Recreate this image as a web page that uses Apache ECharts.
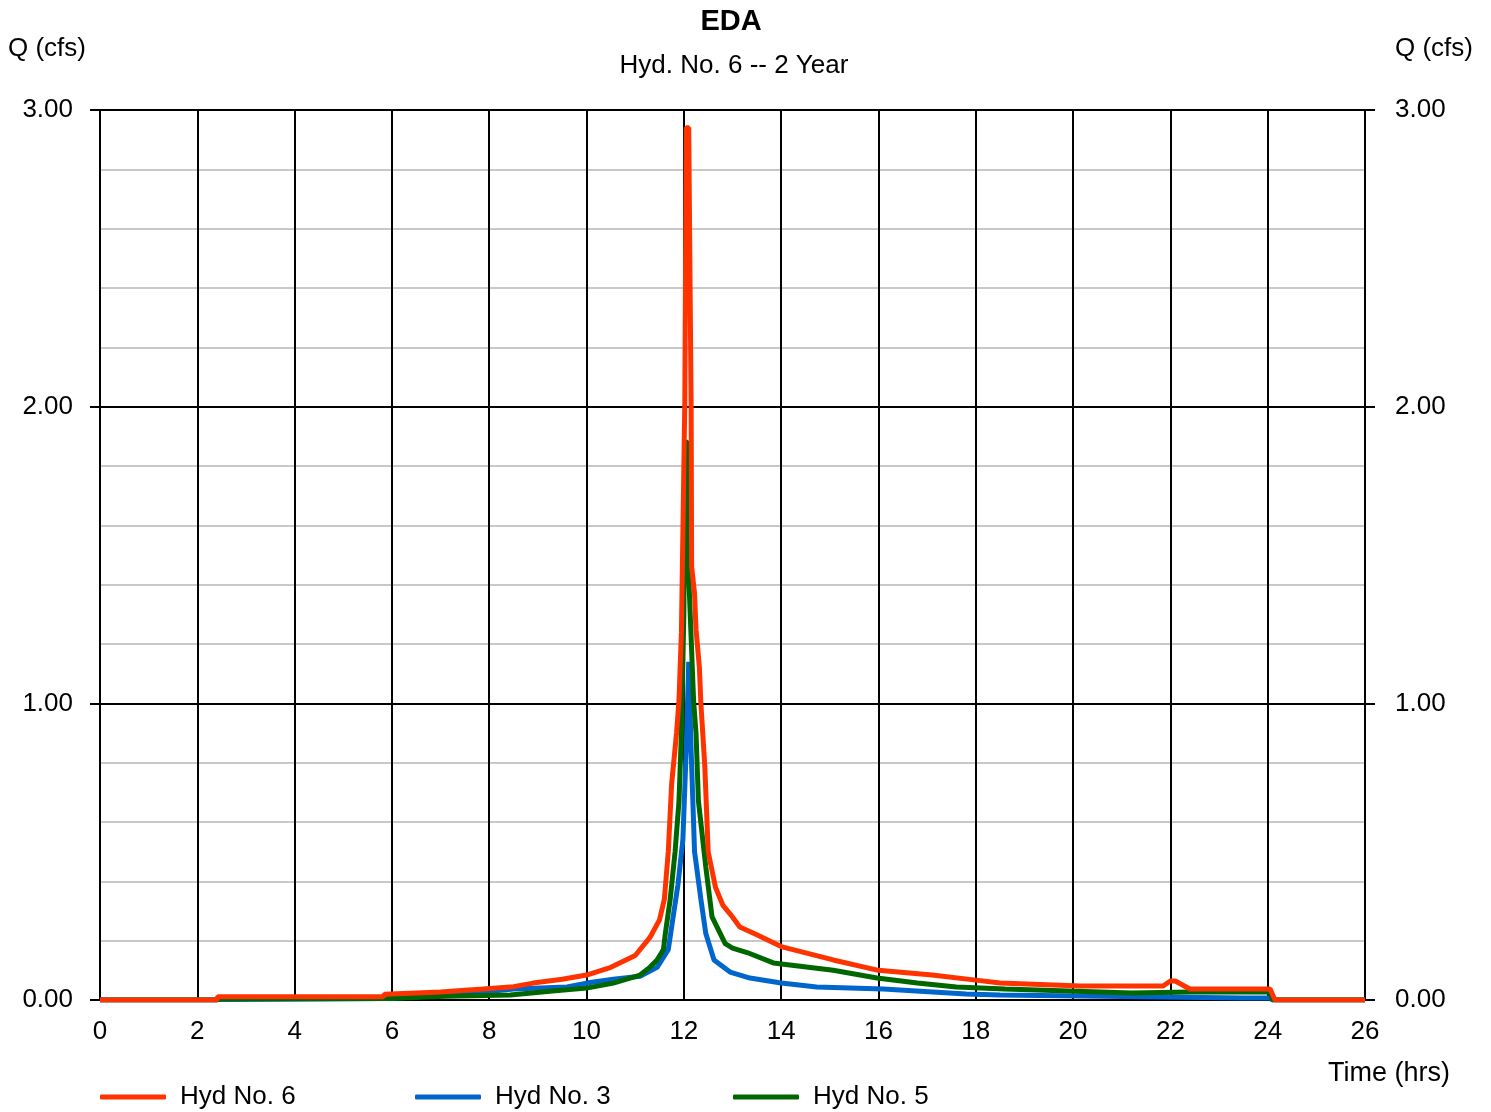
<!DOCTYPE html>
<html>
<head>
<meta charset="utf-8">
<title>EDA</title>
<script src="https://cdn.jsdelivr.net/npm/echarts@6/dist/echarts.min.js"></script>
<style>
  html, body { margin: 0; padding: 0; background: #fff; }
  #main { width: 1491px; height: 1112px; }
</style>
</head>
<body>
<div id="main"></div>
<script>
// Hyd No. 6 (combined) - time (hrs) / flow (cfs)
var redT = [0, 2.4, 2.42, 5.82, 5.85, 7.0, 7.87, 8.5, 8.9, 9.5, 10.0, 10.5, 11.0, 11.3, 11.5, 11.6, 11.68, 11.75, 11.85, 11.9,
            11.95, 12.02, 12.05, 12.1, 12.15, 12.16, 12.22, 12.25, 12.32, 12.35, 12.43, 12.5, 12.65, 12.8, 13.0, 13.15, 13.5, 14.0,
            15.07, 16.0, 17.1, 18.0, 18.5, 20.15, 21.85, 22.0, 22.1, 22.4, 24.05, 24.15, 26];
var redQ = [0, 0, 0.011, 0.011, 0.019, 0.027, 0.037, 0.045, 0.057, 0.07, 0.084, 0.11, 0.15, 0.21, 0.27, 0.34, 0.5, 0.73, 0.9, 1.01,
            1.24, 2.02, 2.94, 2.94, 2.0, 1.46, 1.37, 1.25, 1.12, 1.0, 0.79, 0.5, 0.38, 0.32, 0.28, 0.246, 0.22, 0.18,
            0.135, 0.1, 0.084, 0.067, 0.057, 0.047, 0.047, 0.064, 0.064, 0.037, 0.037, 0, 0];

// Hyd No. 3
var blueT = [0, 2.4, 2.45, 5.9, 7.0, 7.87, 8.5, 9.6, 10.0, 10.55, 11.1, 11.45, 11.68, 11.78, 11.88, 11.98, 12.05, 12.1, 12.15, 12.22,
             12.35, 12.45, 12.62, 12.95, 13.36, 14.0, 14.73, 16.1, 17.8, 18.5, 23.5, 24.05, 24.1, 26];
var blueQ = [0, 0, 0.002, 0.005, 0.015, 0.027, 0.037, 0.044, 0.057, 0.07, 0.08, 0.11, 0.17, 0.28, 0.39, 0.54, 0.85, 1.14, 0.84, 0.5,
             0.34, 0.225, 0.135, 0.094, 0.074, 0.057, 0.044, 0.037, 0.02, 0.017, 0.007, 0.007, 0, 0];

// Hyd No. 5
var greenT = [0, 2.4, 2.45, 5.9, 7.1, 8.43, 9.3, 10.0, 10.55, 11.1, 11.3, 11.45, 11.58, 11.62, 11.72, 11.82, 11.9, 11.95, 12.0, 12.02,
              12.08, 12.1, 12.2, 12.25, 12.3, 12.45, 12.58, 12.85, 13.0, 13.3, 13.84, 15.07, 15.97, 16.8, 17.6, 18.6, 21.2, 22.4,
              24.05, 24.1, 26];
var greenQ = [0, 0, 0.003, 0.005, 0.013, 0.017, 0.03, 0.04, 0.057, 0.084, 0.11, 0.135, 0.17, 0.225, 0.34, 0.5, 0.67, 0.9, 1.3, 1.88,
              1.88, 1.43, 1.01, 0.9, 0.67, 0.45, 0.28, 0.19, 0.175, 0.16, 0.125, 0.1, 0.074, 0.057, 0.044, 0.037, 0.024, 0.027,
              0.027, 0, 0];

var seriesNames = ['Hyd No. 6', 'Hyd No. 3', 'Hyd No. 5'];
var seriesColors = ['#ff3300', '#0066cc', '#006600'];

var FONT = '"Liberation Sans", Arial, sans-serif';

function pairs(t, q) {
    var res = [];
    for (var i = 0; i < t.length; i++) {
        res.push([t[i], q[i]]);
    }
    return res;
}

var myChart = echarts.init(document.getElementById('main'));

var yAxisBase = {
    type: 'value',
    min: 0,
    max: 3,
    interval: 1,
    axisLine: { show: true, lineStyle: { color: '#000', width: 2 } },
    axisTick: { show: true, inside: false, length: 10, lineStyle: { color: '#000', width: 2 } },
    axisLabel: {
        color: '#000',
        fontSize: 26,
        fontFamily: FONT,
        formatter: function (v) { return v.toFixed(2); }
    }
};

var option = {
    animation: false,
    backgroundColor: '#fff',
    grid: { left: 100, right: 126, top: 110, bottom: 112, containLabel: false },
    graphic: [
        { type: 'text', x: 731, y: 22, style: { text: 'EDA', font: 'bold 29px ' + FONT, fill: '#000', align: 'center', verticalAlign: 'middle' } },
        { type: 'text', x: 734, y: 66, style: { text: 'Hyd. No. 6 -- 2 Year', font: '26px ' + FONT, fill: '#000', align: 'center', verticalAlign: 'middle' } },
        { type: 'text', x: 47, y: 49, style: { text: 'Q (cfs)', font: '26px ' + FONT, fill: '#000', align: 'center', verticalAlign: 'middle' } },
        { type: 'text', x: 1434, y: 49, style: { text: 'Q (cfs)', font: '26px ' + FONT, fill: '#000', align: 'center', verticalAlign: 'middle' } },
        { type: 'text', x: 1389, y: 1074, style: { text: 'Time (hrs)', font: '27px ' + FONT, fill: '#000', align: 'center', verticalAlign: 'middle' } }
    ],
    legend: seriesNames.map(function (name, i) {
        return {
            data: [name],
            left: [100, 415, 733][i],
            top: 1084,
            padding: 0,
            icon: 'roundRect',
            itemWidth: 66,
            itemHeight: 5,
            selectedMode: false,
            textStyle: { color: '#000', fontSize: 26, fontFamily: FONT, padding: [0, 0, 0, 9], lineHeight: 26 }
        };
    }),
    xAxis: {
        type: 'value',
        min: 0,
        max: 26,
        interval: 2,
        axisLine: { show: true, onZero: false, lineStyle: { color: '#000', width: 2 } },
        axisTick: { show: false },
        axisLabel: { color: '#000', fontSize: 26, fontFamily: FONT, margin: 19 },
        splitLine: { show: true, lineStyle: { color: '#000', width: 2 } }
    },
    yAxis: [
        echarts.util.merge({
            position: 'left',
            axisLabel: { margin: 27 },
            splitLine: { show: true, lineStyle: { color: '#000', width: 2 } },
            minorTick: { show: false, splitNumber: 5 },
            minorSplitLine: { show: true, lineStyle: { color: '#c8c8c8', width: 2 } }
        }, yAxisBase, false),
        echarts.util.merge({
            position: 'right',
            axisLabel: { margin: 30 },
            splitLine: { show: false }
        }, yAxisBase, false)
    ],
    series: [
        {
            name: seriesNames[0],
            type: 'line',
            data: pairs(redT, redQ),
            symbol: 'none',
            z: 5,
            lineStyle: { color: seriesColors[0], width: 5 },
            itemStyle: { color: seriesColors[0] }
        },
        {
            name: seriesNames[1],
            type: 'line',
            data: pairs(blueT, blueQ),
            symbol: 'none',
            z: 3,
            lineStyle: { color: seriesColors[1], width: 5 },
            itemStyle: { color: seriesColors[1] }
        },
        {
            name: seriesNames[2],
            type: 'line',
            data: pairs(greenT, greenQ),
            symbol: 'none',
            z: 4,
            lineStyle: { color: seriesColors[2], width: 5 },
            itemStyle: { color: seriesColors[2] }
        }
    ]
};

myChart.setOption(option);
window.addEventListener('resize', function () {
    myChart.resize();
});
</script>
</body>
</html>
